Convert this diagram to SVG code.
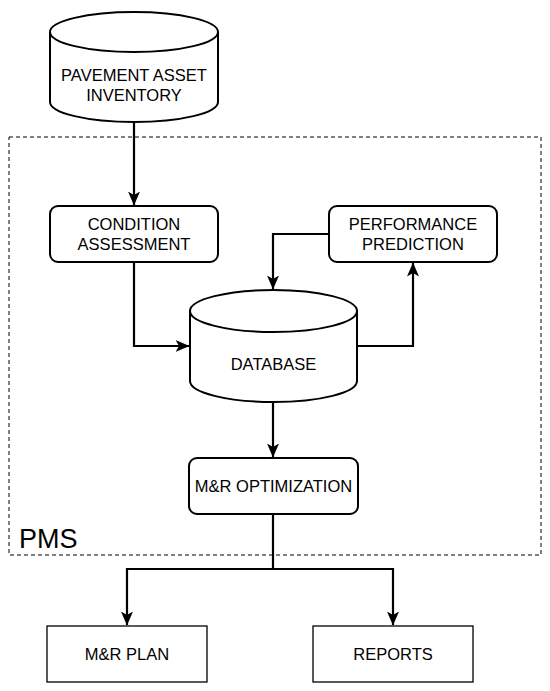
<svg xmlns="http://www.w3.org/2000/svg" width="550" height="691" viewBox="0 0 550 691">
<style>
.shape{fill:#fff;stroke:#000;stroke-width:2}
.thin{fill:#fff;stroke:#000;stroke-width:1.3}
.conn{fill:none;stroke:#000;stroke-width:2.2}
.lbl{font-family:"Liberation Sans",Arial,sans-serif;font-size:16.5px;fill:#000;text-anchor:middle}
</style>
<defs>
<marker id="arr" markerUnits="userSpaceOnUse" markerWidth="14" markerHeight="12" viewBox="0 0 14 12" refX="13.5" refY="6" orient="auto">
<path d="M0,0 L14,6 L0,12 L3.5,6 z" fill="#000"/>
</marker>
</defs>
<g id="pms">
<rect x="9" y="137" width="532" height="418" fill="none" stroke="#000" stroke-width="1" stroke-dasharray="4,3"/>
<text x="19" y="548" style="font-family:'Liberation Sans',Arial,sans-serif;font-size:27px">PMS</text>
</g>
<g id="inventory">
<path class="shape" d="M50,32 A84,20 0 0 1 218,32 L218,102 A84,20 0 0 1 50,102 Z"/>
<path class="shape" fill="none" d="M50,32 A84,20 0 0 0 218,32"/>
<text class="lbl" x="134" y="81">PAVEMENT ASSET</text>
<text class="lbl" x="134" y="101">INVENTORY</text>
</g>
<g id="condition">
<rect class="shape" x="50" y="206" width="168" height="56" rx="8"/>
<text class="lbl" x="134" y="230">CONDITION</text>
<text class="lbl" x="134" y="250">ASSESSMENT</text>
</g>
<g id="performance">
<rect class="shape" x="329" y="206" width="168" height="56" rx="8"/>
<text class="lbl" x="413" y="230">PERFORMANCE</text>
<text class="lbl" x="413" y="250">PREDICTION</text>
</g>
<g id="database">
<path class="shape" d="M190,311 A83.5,21 0 0 1 357,311 L357,381 A83.5,21 0 0 1 190,381 Z"/>
<path class="shape" fill="none" d="M190,311 A83.5,21 0 0 0 357,311"/>
<text class="lbl" x="273.5" y="370">DATABASE</text>
</g>
<g id="optimization">
<rect class="shape" x="189" y="458" width="169" height="56" rx="8"/>
<text class="lbl" x="273.5" y="492">M&amp;R OPTIMIZATION</text>
</g>
<g id="plan">
<rect class="thin" x="47" y="626" width="160" height="56"/>
<text class="lbl" x="127" y="660">M&amp;R PLAN</text>
</g>
<g id="reports">
<rect class="thin" x="313" y="626" width="160" height="56"/>
<text class="lbl" x="393" y="660">REPORTS</text>
</g>
<g id="connectors">
<path class="conn" d="M134,122 L134,205" marker-end="url(#arr)"/>
<path class="conn" d="M134,262 L134,346 L189,346" marker-end="url(#arr)"/>
<path class="conn" d="M329,234 L273,234 L273,289" marker-end="url(#arr)"/>
<path class="conn" d="M357,346 L413,346 L413,263" marker-end="url(#arr)"/>
<path class="conn" d="M273,402 L273,457" marker-end="url(#arr)"/>
<path class="conn" d="M273,514 L273,569 L127,569 L127,625" marker-end="url(#arr)"/>
<path class="conn" d="M273,569 L393,569 L393,625" marker-end="url(#arr)"/>
</g>
</svg>
